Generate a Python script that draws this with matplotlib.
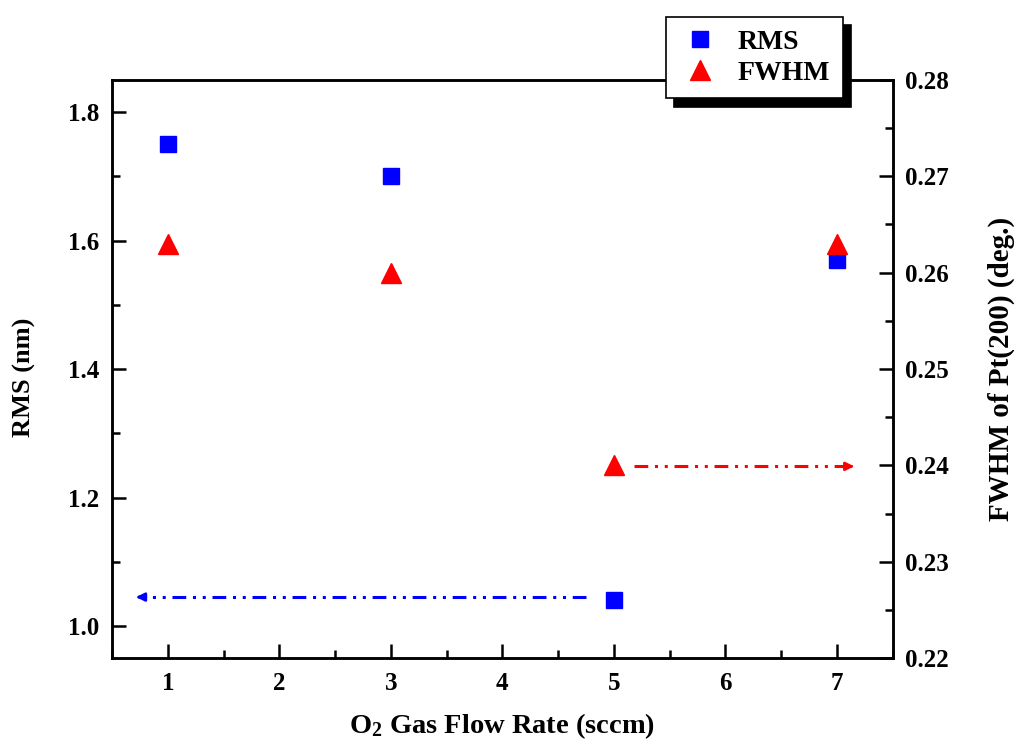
import matplotlib
matplotlib.use("Agg")
import matplotlib.pyplot as plt
from matplotlib.ticker import MultipleLocator

plt.rcParams['font.family'] = ['Liberation Serif', 'DejaVu Serif']
plt.rcParams['font.weight'] = 'bold'
plt.rcParams['mathtext.fontset'] = 'custom'
plt.rcParams['mathtext.rm'] = 'Liberation Serif:bold'
plt.rcParams['mathtext.default'] = 'rm'

# O2 flow rate (sccm)
flow = [1, 3, 5, 7]
rms = [1.75, 1.70, 1.04, 1.57]
fwhm = [0.263, 0.260, 0.240, 0.263]

# dash-dot-dot guide arrows pointing to each axis
rms_arrow = (4.75, 0.69, 1.045)
fwhm_arrow = (5.18, 7.18, 0.2399)
dashdotdot = (0, (4.5, 2.2, 1, 2.2, 1, 2.2))

fig = plt.figure(figsize=(10.19, 7.47), dpi=100)
ax = fig.add_axes([0.110, 0.119, 0.766, 0.774])
ax2 = ax.twinx()

h1, = ax.plot(flow, rms, 's', color='blue', ms=12, label='RMS')
h2, = ax2.plot(flow, fwhm, '^', color='red', ms=15, label='FWHM')

x0, x1, y = rms_arrow
ax.plot([x0, x1 + 0.06], [y, y], color='blue', lw=2.2, linestyle=dashdotdot)
ax.annotate('', xy=(x1, y), xytext=(x1 + 0.1, y),
            arrowprops=dict(arrowstyle='-|>', color='blue', lw=2, mutation_scale=12))
x0, x1, y = fwhm_arrow
ax2.plot([x0, x1 - 0.06], [y, y], color='red', lw=2.2, linestyle=dashdotdot)
ax2.annotate('', xy=(x1, y), xytext=(x1 - 0.1, y),
             arrowprops=dict(arrowstyle='-|>', color='red', lw=2, mutation_scale=12))

ax.set_xlim(0.5, 7.5)
ax.set_ylim(0.95, 1.85)
ax2.set_ylim(0.22, 0.28)

ax.xaxis.set_major_locator(MultipleLocator(1))
ax.xaxis.set_minor_locator(MultipleLocator(0.5))
ax.yaxis.set_major_locator(MultipleLocator(0.2))
ax.yaxis.set_minor_locator(MultipleLocator(0.1))
ax2.yaxis.set_major_locator(MultipleLocator(0.01))
ax2.yaxis.set_minor_locator(MultipleLocator(0.005))
ax.set_xticks([1, 2, 3, 4, 5, 6, 7])
ax.yaxis.set_major_formatter(lambda v, p: f'{v:.1f}')
ax2.yaxis.set_major_formatter(lambda v, p: f'{v:.2f}')

for a in (ax, ax2):
    a.tick_params(which='major', direction='in', length=10, width=1.8, labelsize=18, pad=9)
    a.tick_params(which='minor', direction='in', length=6, width=1.8)
    for s in a.spines.values():
        s.set_linewidth(1.8)
ax.tick_params(axis='y', which='both', right=False)
ax.tick_params(axis='x', which='both', top=False, pad=10)

ax.set_xlabel(r'O$_2$ Gas Flow Rate (sccm)', fontsize=20.5, fontweight='bold', labelpad=12)
ax.set_ylabel('RMS (nm)', fontsize=19, fontweight='bold')
ax.yaxis.set_label_coords(-0.098, 0.486)
ax2.set_ylabel('FWHM of Pt(200) (deg.)', fontsize=21, fontweight='bold', labelpad=28)

leg = ax2.legend(handles=[h1, h2], loc='upper left', bbox_to_anchor=(0.709, 1.109),
                 borderaxespad=0, fontsize=20, fancybox=False, framealpha=1,
                 edgecolor='black', shadow={'ox': 6, 'oy': -6, 'color': 'black', 'alpha': 1},
                 handletextpad=0.55, borderpad=0.45, labelspacing=0.2, handlelength=1.6)
leg.get_frame().set_linewidth(1.2)
leg.set_zorder(10)

fig.savefig('out.png', dpi=100)
